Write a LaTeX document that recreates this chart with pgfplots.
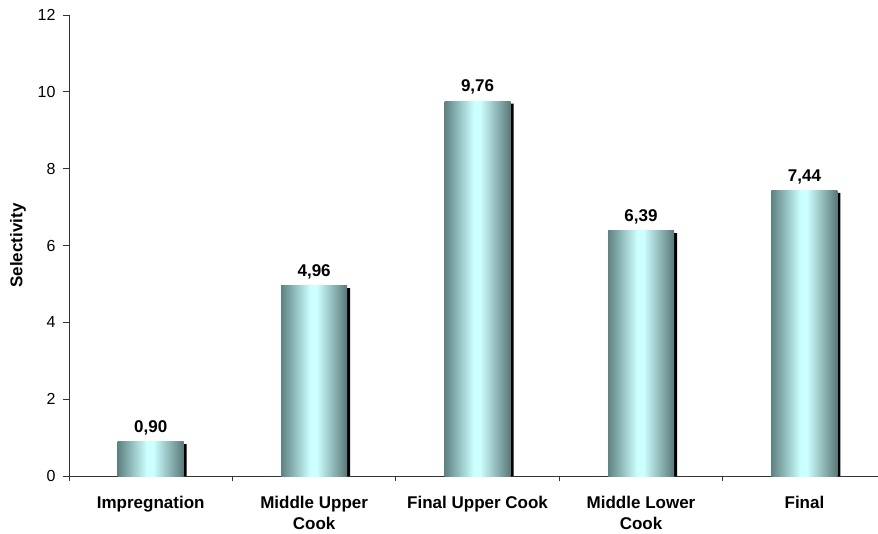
\documentclass[border=0pt]{standalone}
\usepackage{pgfplots}
\usepackage{pgfplotstable}
\pgfplotsset{compat=1.18}
\usepackage{fontspec}
\setmainfont{Liberation Sans}

% cylinder-like shading of the bars: dark teal edges, pale cyan centre
% (the bar spans 25bp..75bp of the shading)
\definecolor{barEdgeL}{RGB}{95,130,130}
\definecolor{barEdgeR}{RGB}{90,120,120}
\definecolor{barMid}{RGB}{204,255,255}
\pgfdeclarehorizontalshading{barshade}{100bp}{%
  color(0bp)=(barEdgeL); color(25bp)=(barEdgeL); color(47bp)=(barMid); color(52bp)=(barMid);
  color(75bp)=(barEdgeR); color(100bp)=(barEdgeR)}

\pgfplotstableread{
x  y
0  0.90
1  4.96
2  9.76
3  6.39
4  7.44
}\selectivity

\begin{document}
\begin{tikzpicture}[x=1pt,y=1pt]
\useasboundingbox (0,0) rectangle (878,533);
\begin{axis}[
  at={(69pt,57pt)}, anchor=south west,
  scale only axis, width=809pt, height=461pt,
  xmin=-0.5, xmax=4.45, ymin=0, ymax=12,
  axis lines=left, axis line style={-, draw=black!80, line width=0.8pt},
  clip=false,
  ytick={0,2,...,12},
  xtick={0,1,2,3,4},
  xticklabels={Impregnation, Middle Upper\\Cook, Final Upper Cook, Middle Lower\\Cook, Final},
  minor xtick={-0.5,0.5,1.5,2.5,3.5},
  tick align=outside,
  major x tick style={draw=none},
  minor tick length=5pt, major tick length=6pt,
  tick style={draw=black!80, line width=0.8pt},
  /pgf/number format/assume math mode=true,
  yticklabel style={font=\fontsize{16}{19}\selectfont, xshift=-4pt},
  xticklabel style={font=\fontsize{17}{21}\selectfont\bfseries, align=center, anchor=north, yshift=-11pt},
  ylabel={Selectivity},
  every axis y label/.style={at={(axis description cs:0,0.5)}, xshift=-51pt, rotate=90, anchor=center,
    font=\fontsize{17}{21}\selectfont\bfseries},
  bar width=66pt,
  every node near coord/.append style={font=\fontsize{17}{21}\selectfont\bfseries,
    anchor=south, yshift=3pt, text=black,
    /pgf/number format/fixed, /pgf/number format/fixed zerofill,
    /pgf/number format/precision=2, /pgf/number format/use comma,
    /pgf/number format/assume math mode=true},
  shaded bar/.style={ybar, bar shift=0pt, draw=none, shade, shading=barshade,
    nodes near coords, point meta=y},
]
% drop shadow on the right of each bar
\addplot[ybar, bar shift=3pt, fill=black, draw=none]
  table[x=x, y expr=\thisrow{y}-0.07] {\selectivity};
% shaded bars with their values, one plot per bar so each gets its own shading
\addplot[shaded bar] table[x=x, y=y, skip coords between index={1}{5}] {\selectivity};
\addplot[shaded bar] table[x=x, y=y, skip coords between index={0}{1}, skip coords between index={2}{5}] {\selectivity};
\addplot[shaded bar] table[x=x, y=y, skip coords between index={0}{2}, skip coords between index={3}{5}] {\selectivity};
\addplot[shaded bar] table[x=x, y=y, skip coords between index={0}{3}, skip coords between index={4}{5}] {\selectivity};
\addplot[shaded bar] table[x=x, y=y, skip coords between index={0}{4}] {\selectivity};
\end{axis}
\end{tikzpicture}
\end{document}
